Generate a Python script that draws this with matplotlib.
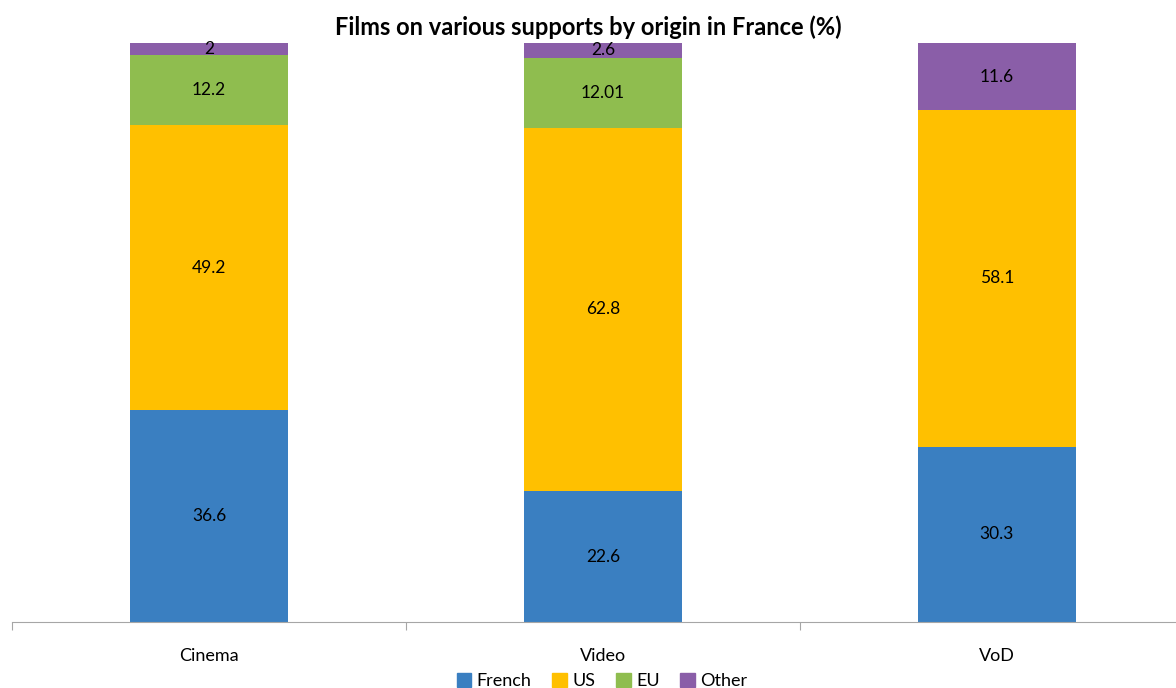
import numpy as np
import matplotlib.pyplot as plt
from matplotlib.patches import Patch

plt.rcParams['font.family'] = ['Lato', 'DejaVu Sans']

categories = ['Cinema', 'Video', 'VoD']
french = [36.6, 22.6, 30.3]
us = [49.2, 62.8, 58.1]
eu = [12.2, 12.01, 0]
other = [2, 2.6, 11.6]

french_lbl = ['36.6', '22.6', '30.3']
us_lbl = ['49.2', '62.8', '58.1']
eu_lbl = ['12.2', '12.01', '']
other_lbl = ['2', '2.6', '11.6']

series = [('French', french, french_lbl, '#3A7FC1'),
          ('US', us, us_lbl, '#FFC000'),
          ('EU', eu, eu_lbl, '#8FBD4F'),
          ('Other', other, other_lbl, '#8A5EA8')]

fig = plt.figure(figsize=(11.76, 6.88), dpi=100)
ax = fig.add_axes([12/1176, 1 - 622/688, 1182/1176, (622 - 43)/688])

x = np.arange(len(categories))
bottom = np.zeros(len(categories))
for name, vals, lbls, col in series:
    vals = np.array(vals, dtype=float)
    ax.bar(x, vals, width=0.4, bottom=bottom, color=col, zorder=1)
    for i in range(len(x)):
        if vals[i] > 0:
            ax.text(x[i], bottom[i] + vals[i] / 2, lbls[i], ha='center', va='center',
                    fontsize=12.5, color='black', zorder=3)
    bottom += vals

ax.set_xlim(-0.5, 2.5)
ax.set_ylim(0, 100)
for s in ['top', 'right', 'left']:
    ax.spines[s].set_visible(False)
ax.spines['bottom'].set_color('#A6A6A6')
ax.spines['bottom'].set_zorder(2)
ax.set_yticks([])
ax.set_xticks([-0.5, 0.5, 1.5, 2.5])
ax.set_xticklabels([])
ax.tick_params(axis='x', length=6, color='#A6A6A6')
ax.set_xticks(x, minor=True)
ax.set_xticklabels(categories, minor=True, fontsize=13)
ax.tick_params(axis='x', which='minor', length=0, pad=19)

fig.text(0.5, 1 - 27/688, 'Films on various supports by origin in France (%)',
         ha='center', va='center', fontsize=17, fontweight='bold')

handles = [Patch(color=c) for _, _, _, c in series]
fig.legend(handles, [s[0] for s in series], loc='lower center',
           bbox_to_anchor=(0.512, -0.025), ncol=4, frameon=False, fontsize=13,
           handlelength=0.8, handleheight=0.8, handletextpad=0.3, columnspacing=1.15)

fig.savefig('out.png', dpi=100)
